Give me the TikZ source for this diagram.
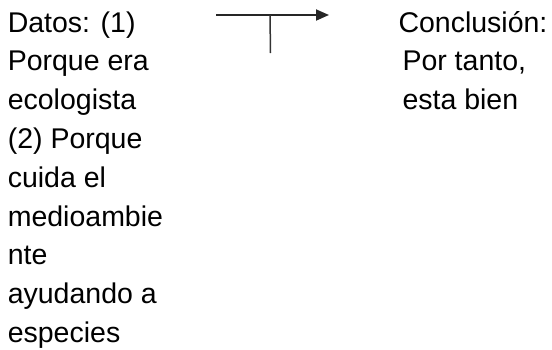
\documentclass[tikz,border=0pt]{standalone}
\usepackage{fontspec}
\setmainfont{Liberation Sans}
\usetikzlibrary{arrows.meta}
\begin{document}
\begin{tikzpicture}[x=1pt,y=-1pt,
  txt/.style={inner sep=0pt, outer sep=0pt, align=left, anchor=base west,
    font=\fontsize{28.5}{38.8}\selectfont, text=black},
  conn/.style={line width=1.8pt, draw=black!85}]
\useasboundingbox (0,0) rectangle (552,349);
\fill[white] (0,0) rectangle (552,349);
\node[txt] (datos) at (7.8,342.4) {Datos: (1)\\Porque era\\ecologista\\(2) Porque\\cuida el\\medioambie\\nte\\ayudando a\\especies};
\node[txt] (concl) at (398.5,109.6) {Conclusión:\\\hspace*{4pt}Por tanto,\\\hspace*{4pt}esta bien};
\coordinate (a0) at (216,15);
\coordinate (a1) at (329,15);
\coordinate (t0) at (270,15);
\coordinate (t1) at (270.5,53);
\draw[conn, -{Triangle[length=13pt,width=11pt]}] (a0) -- (a1);
\draw[line width=1.5pt, draw=black!80] (t0) -- (t1);
\end{tikzpicture}
\end{document}
